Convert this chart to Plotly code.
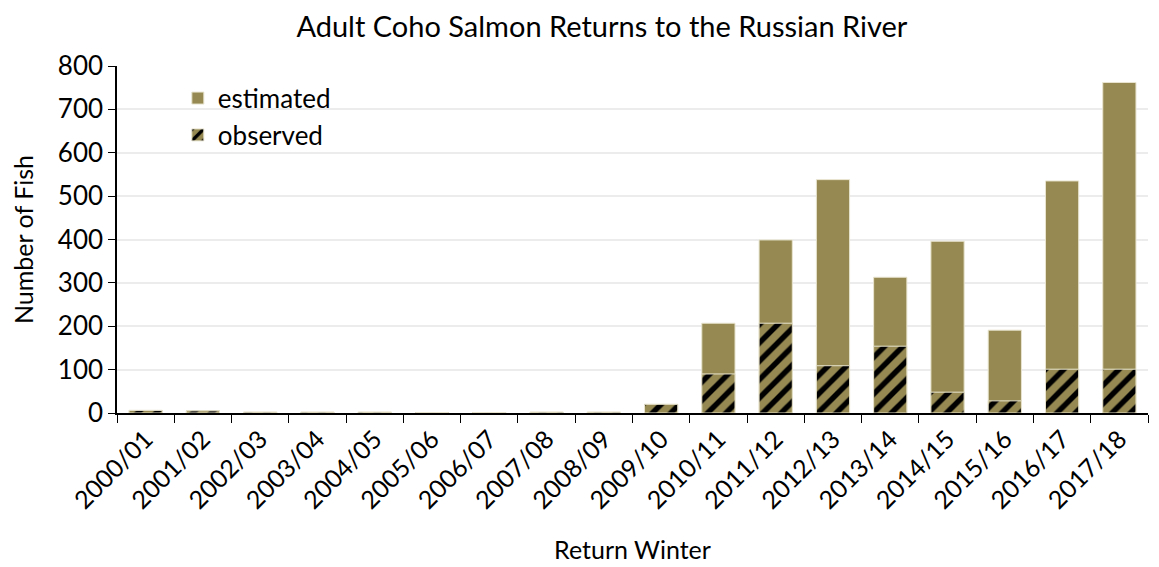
import plotly.graph_objects as go

winters = ["2000/01", "2001/02", "2002/03", "2003/04", "2004/05", "2005/06",
           "2006/07", "2007/08", "2008/09", "2009/10", "2010/11", "2011/12",
           "2012/13", "2013/14", "2014/15", "2015/16", "2016/17", "2017/18"]
estimated = [6, 5, 2, 2, 2, 1, 1, 2, 2, 20, 207, 399, 538, 313, 396, 191, 535, 762]
observed = [6, 5, 2, 2, 2, 1, 1, 2, 2, 20, 90, 207, 109, 154, 48, 28, 101, 101]

OLIVE = "#968a52"
FONT = "Lato, 'Open Sans', sans-serif"

fig = go.Figure()
fig.add_trace(go.Bar(
    x=winters, y=estimated, name="estimated",
    marker=dict(color=OLIVE, line=dict(color="#e8e4cf", width=1)),
))
fig.add_trace(go.Bar(
    x=winters, y=observed, name="observed",
    marker=dict(color=OLIVE, line=dict(color="#e8e4cf", width=1),
                pattern=dict(shape="/", fgcolor="black", fgopacity=1,
                             bgcolor=OLIVE, size=13, solidity=0.42)),
))

fig.update_layout(
    barmode="overlay",
    bargap=0.42,
    width=1151, height=559,
    paper_bgcolor="white", plot_bgcolor="white",
    margin=dict(l=109, r=11, t=58, b=154, autoexpand=False),
    font=dict(family=FONT, size=26, color="black"),
    title=dict(text="Adult Coho Salmon Returns to the Russian River",
               x=0.516, xanchor="center", yref="container", y=1,
               yanchor="top", pad=dict(t=9), automargin=False,
               font=dict(family=FONT, size=29, color="black")),
    legend=dict(x=0.059, y=0.975, xanchor="left", yanchor="top",
                bgcolor="rgba(0,0,0,0)", font=dict(size=26),
                traceorder="normal", itemwidth=30),
    showlegend=True,
)
fig.update_xaxes(
    type="category", tickangle=-45, showline=True, linecolor="black",
    linewidth=1.5, ticks="outside", tickson="boundaries", ticklen=8,
    tickcolor="black", showgrid=False, automargin=False,
    title=dict(text="Return Winter", font=dict(size=25), standoff=28),
    tickfont=dict(size=25),
)
fig.update_yaxes(
    range=[0, 800], dtick=100, showline=True, linecolor="black",
    linewidth=1.5, ticks="outside", ticklen=7, tickcolor="black",
    showgrid=True, gridcolor="#ececec", gridwidth=1.5, zeroline=False,
    automargin=False,
    title=dict(text="Number of Fish", font=dict(size=25), standoff=20),
    tickfont=dict(size=26),
)

fig.write_html("out.html")
